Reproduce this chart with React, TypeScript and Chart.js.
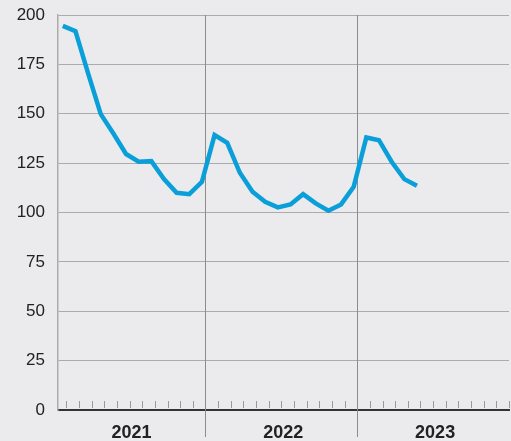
import React, { useEffect, useRef } from 'react';
import { Chart, registerables } from 'chart.js';

Chart.register(...registerables);

const years = ['2021', '2022', '2023'];
const values2021 = [194.5, 191.8, 170.4, 149.8, 140.0, 129.6, 125.7, 126.0, 116.9, 110.0, 109.3, 115.5];
const values2022 = [139.2, 135.3, 120.1, 110.5, 105.4, 102.6, 104.1, 109.3, 104.6, 100.9, 104.1, 113.0];
const values2023 = [138.0, 136.6, 125.7, 116.9, 113.5];
const yMin = 0;
const yMax = 200;
const yStep = 25;

const monthsPerYear = 12;
const pointOffset = 0.72;

const allValues = [...values2021, ...values2022, ...values2023];
const points = allValues.map((v, i) => ({ x: i + pointOffset, y: v }));

const decorPlugin = {
  id: 'decor',
  beforeDatasetsDraw(chart: any) {
    const { ctx, chartArea, scales } = chart;
    const x = scales.x;
    ctx.save();
    ctx.strokeStyle = '#9a9a9a';
    ctx.lineWidth = 1;
    const total = years.length * monthsPerYear;
    for (let m = 1; m <= total; m++) {
      if (m % monthsPerYear === 0 && m < total) continue;
      const px = Math.round(x.getPixelForValue(m)) + 0.5;
      if (px < chartArea.left + 2) continue;
      ctx.beginPath();
      ctx.moveTo(px, chartArea.bottom - 9);
      ctx.lineTo(px, chartArea.bottom - 2);
      ctx.stroke();
    }
    ctx.strokeStyle = '#8c8c8c';
    for (let yi = 1; yi < years.length; yi++) {
      const px = Math.round(x.getPixelForValue(yi * monthsPerYear)) + 0.5;
      ctx.beginPath();
      ctx.moveTo(px, chartArea.top);
      ctx.lineTo(px, chartArea.bottom + 27);
      ctx.stroke();
    }
    ctx.restore();
  },
  afterDraw(chart: any) {
    const { ctx, chartArea, scales } = chart;
    const x = scales.x;
    ctx.save();
    ctx.fillStyle = '#222222';
    ctx.font = 'bold 18px "Liberation Sans", Arial, sans-serif';
    ctx.textAlign = 'center';
    ctx.textBaseline = 'middle';
    years.forEach((yr, i) => {
      const mid = x.getPixelForValue(i * monthsPerYear + monthsPerYear / 2) + 2;
      ctx.fillText(yr, mid, chartArea.bottom + 23.5);
    });
    ctx.restore();
  },
};

export default function App() {
  const canvasRef = useRef<HTMLCanvasElement | null>(null);

  useEffect(() => {
    if (!canvasRef.current) return;
    const chart = new Chart(canvasRef.current, {
      type: 'line',
      data: {
        datasets: [
          {
            data: points,
            borderColor: '#0a9fd9',
            borderWidth: 4.5,
            pointRadius: 0,
            tension: 0,
            fill: false,
          },
        ],
      },
      options: {
        animation: false,
        responsive: true,
        maintainAspectRatio: false,
        layout: { padding: { top: 15, right: 2, left: 0, bottom: 0 } },
        plugins: {
          legend: { display: false },
          tooltip: { enabled: false },
        },
        scales: {
          x: {
            type: 'linear',
            min: 0.34,
            max: years.length * monthsPerYear,
            grid: { display: false },
            ticks: { display: false },
            border: { display: true, color: '#333333', width: 2 },
            afterFit(scale: any) {
              scale.height = 31;
              scale.paddingLeft = 0;
              scale.paddingRight = 0;
            },
          },
          y: {
            min: yMin,
            max: yMax,
            ticks: {
              stepSize: yStep,
              padding: 13,
              color: '#222222',
              font: { family: '"Liberation Sans", Arial, sans-serif', size: 17 },
            },
            grid: { color: '#ababab', lineWidth: 1, drawTicks: false },
            border: { display: true, color: '#ababab', width: 1.5 },
            afterFit(scale: any) {
              scale.width = 58;
              scale.paddingTop = 0;
              scale.paddingBottom = 0;
            },
          },
        },
      },
      plugins: [decorPlugin],
    });
    return () => chart.destroy();
  }, []);

  return (
    <div
      style={{
        position: 'absolute',
        left: 0,
        top: 0,
        width: 511,
        height: 441,
        background: '#ebebed',
      }}
    >
      <canvas ref={canvasRef} />
    </div>
  );
}
